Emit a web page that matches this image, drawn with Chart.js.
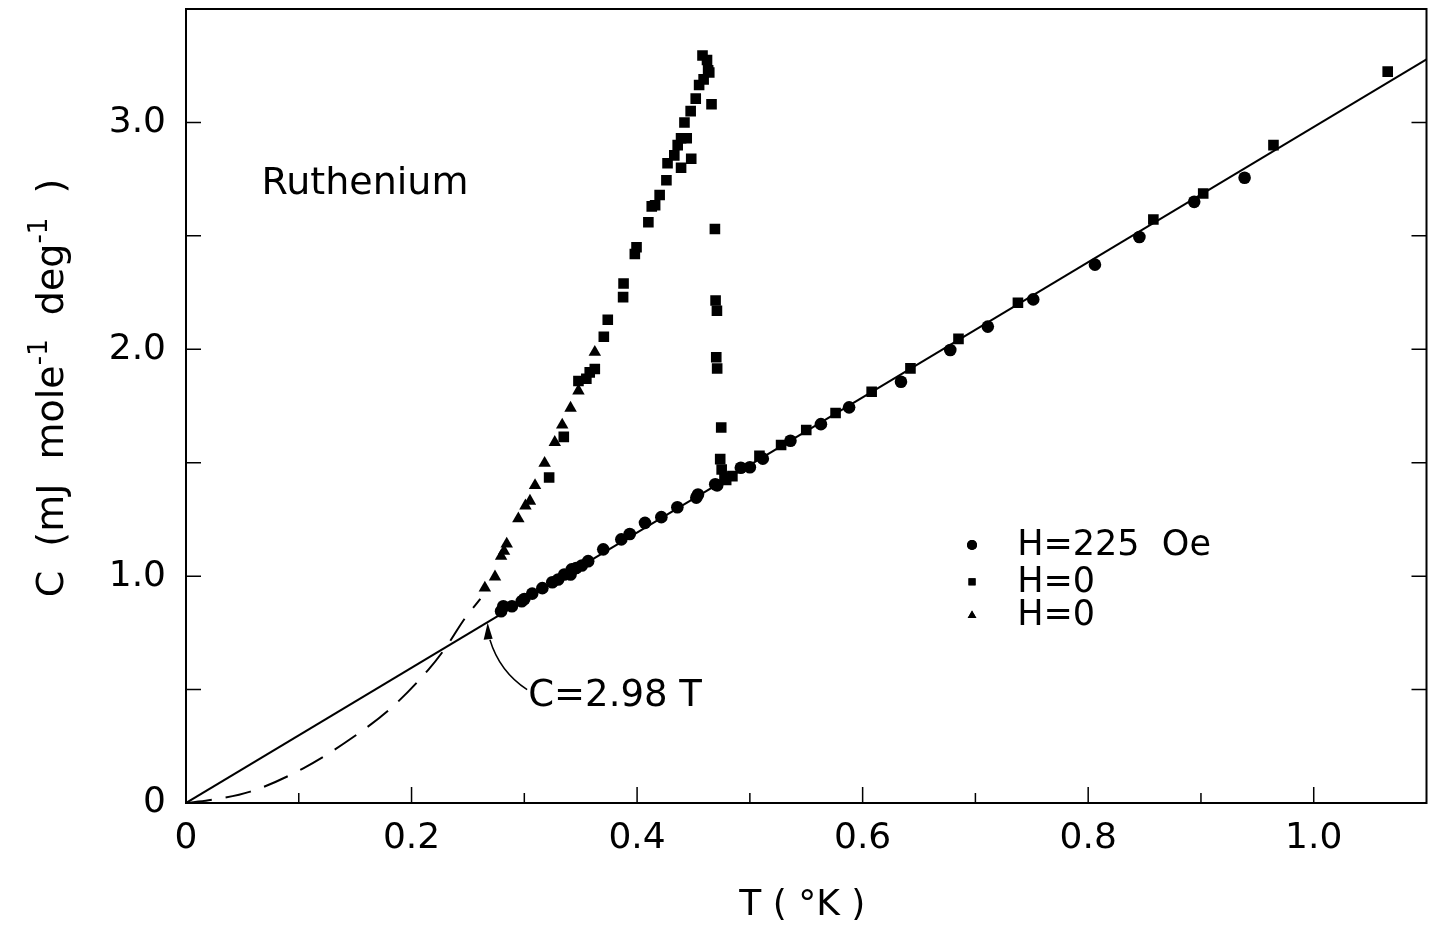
<!DOCTYPE html>
<html>
<head>
<meta charset="utf-8">
<script src="https://cdn.jsdelivr.net/npm/chart.js@4.4.0/dist/chart.umd.min.js"></script>
<style>
  html, body { margin: 0; padding: 0; background: #fff; }
</style>
</head>
<body>
<canvas id="chart" width="1434" height="931"></canvas>
<script>
// H = 225 Oe (circles)
const circT = [0.2794, 0.2814, 0.289, 0.2977, 0.300, 0.307, 0.316, 0.3248, 0.330, 0.3354, 0.341, 0.342,
  0.346, 0.351, 0.3566, 0.370, 0.386, 0.3935, 0.407, 0.4215, 0.4357, 0.4525, 0.454, 0.4693, 0.471,
  0.492, 0.500, 0.5115, 0.536, 0.563, 0.588, 0.634, 0.6777, 0.711, 0.7513, 0.806, 0.8454, 0.894, 0.9387];
const circC = [0.845, 0.867, 0.867, 0.889, 0.899, 0.923, 0.947, 0.973, 0.985, 1.007, 1.007, 1.030,
  1.036, 1.047, 1.066, 1.118, 1.162, 1.186, 1.235, 1.260, 1.304, 1.346, 1.360, 1.405, 1.400,
  1.478, 1.480, 1.518, 1.597, 1.670, 1.744, 1.857, 1.997, 2.100, 2.220, 2.373, 2.495, 2.650, 2.756];

// H = 0 (squares)
const sqT = [0.322, 0.335, 0.348, 0.355, 0.358, 0.3625, 0.3705, 0.374, 0.3876, 0.388, 0.398, 0.3995,
  0.410, 0.413, 0.416, 0.420, 0.426, 0.427, 0.433, 0.436, 0.439, 0.439, 0.444, 0.448, 0.4475, 0.442,
  0.452, 0.455, 0.459, 0.458, 0.462, 0.463, 0.464, 0.466, 0.469, 0.4696, 0.4708, 0.4702, 0.471,
  0.4746, 0.4737, 0.475, 0.4775, 0.479, 0.4845, 0.5085, 0.5277, 0.550, 0.576, 0.608, 0.6424, 0.685,
  0.7377, 0.8578, 0.902, 0.9643, 1.0656];
const sqC = [1.435, 1.614, 1.860, 1.870, 1.898, 1.913, 2.055, 2.130, 2.230, 2.290, 2.420, 2.450,
  2.560, 2.630, 2.635, 2.680, 2.745, 2.820, 2.855, 2.900, 2.930, 2.800, 2.930, 2.840, 3.050, 3.000,
  3.105, 3.165, 3.190, 3.295, 3.275, 3.230, 3.220, 3.080, 2.530, 2.215, 2.170, 1.965, 1.915,
  1.655, 1.516, 1.470, 1.435, 1.424, 1.441, 1.530, 1.578, 1.644, 1.719, 1.813, 1.916, 2.046,
  2.205, 2.572, 2.687, 2.900, 3.224];

// H = 0 (triangles)
const triT = [0.265, 0.274, 0.2794, 0.282, 0.2844, 0.2947, 0.301, 0.305, 0.3095, 0.318, 0.327, 0.3336, 0.341, 0.348, 0.3625];
const triC = [0.948, 0.997, 1.088, 1.110, 1.142, 1.253, 1.310, 1.331, 1.400, 1.498, 1.590, 1.667, 1.741, 1.817, 1.987];

// fitted line C = 2.98 T (end points)
const fitT = [0, 1.1];
const fitC = [0, 3.278];

// dashed curve
const dashT = [0, 0.02, 0.057, 0.104, 0.149, 0.1835, 0.215, 0.231, 0.2466, 0.261];
const dashC = [0, 0.012, 0.05, 0.153, 0.293, 0.426, 0.588, 0.69, 0.809, 0.90];

// axes
const xTickVals = [0, 0.2, 0.4, 0.6, 0.8, 1.0];
const xTickLabels = ['0', '0.2', '0.4', '0.6', '0.8', '1.0'];
const xMinorVals = [0.1, 0.3, 0.5, 0.7, 0.9];
const yTickVals = [0, 1, 2, 3];
const yTickLabels = ['0', '1.0', '2.0', '3.0'];
const yMinorVals = [0.5, 1.5, 2.5];

const legendLabels = ['H=225  Oe', 'H=0', 'H=0'];
const legendStyles = ['circle', 'rect', 'triangle'];

const pts = (xs, ys) => xs.map((x, i) => ({ x, y: ys[i] }));
const FONT = "'DejaVu Sans', sans-serif";

const decor = {
  id: 'decor',
  afterDraw(chart) {
    const { ctx, chartArea: a, scales: { x, y } } = chart;
    ctx.save();
    ctx.strokeStyle = '#000';
    ctx.fillStyle = '#000';
    ctx.lineWidth = 2;
    ctx.strokeRect(a.left, a.top, a.right - a.left, a.bottom - a.top);

    // inward ticks
    ctx.lineWidth = 1.5;
    ctx.beginPath();
    xTickVals.forEach(v => {
      const px = x.getPixelForValue(v);
      ctx.moveTo(px, a.bottom); ctx.lineTo(px, a.bottom - 16);
    });
    xMinorVals.forEach(v => {
      const px = x.getPixelForValue(v);
      ctx.moveTo(px, a.bottom); ctx.lineTo(px, a.bottom - 10);
    });
    yTickVals.concat(yMinorVals).forEach(v => {
      const py = y.getPixelForValue(v);
      ctx.moveTo(a.left, py); ctx.lineTo(a.left + 15, py);
      ctx.moveTo(a.right, py); ctx.lineTo(a.right - 15, py);
    });
    ctx.stroke();

    // x title
    ctx.font = '36px ' + FONT;
    ctx.textAlign = 'center';
    ctx.textBaseline = 'middle';
    ctx.fillText('T ( °K )', (a.left + a.right) / 2 - 4, 906);

    // y title with superscripts
    const parts = [['C  (mJ  mole', 38, 0], ['-1', 26, 16], ['  deg', 38, 0], ['-1', 26, 16], ['  )', 38, 0]];
    let total = 0;
    parts.forEach(p => { ctx.font = p[1] + 'px ' + FONT; p.push(ctx.measureText(p[0]).width); total += p[3]; });
    ctx.translate(50, 388);
    ctx.rotate(-Math.PI / 2);
    ctx.textAlign = 'left';
    ctx.textBaseline = 'alphabetic';
    let cx = -total / 2;
    parts.forEach(p => {
      ctx.font = p[1] + 'px ' + FONT;
      ctx.fillText(p[0], cx, 13 - p[2]);
      cx += p[3];
    });
    ctx.setTransform(1, 0, 0, 1, 0, 0);

    // Ruthenium label
    ctx.font = '38px ' + FONT;
    ctx.textAlign = 'left';
    ctx.textBaseline = 'middle';
    ctx.fillText('Ruthenium', x.getPixelForValue(0.067), y.getPixelForValue(2.73));

    // legend
    const rowsC = [1.137, 0.975, 0.827];
    ctx.font = '35px ' + FONT;
    rowsC.forEach((c, i) => {
      const sx = x.getPixelForValue(0.697), ty = y.getPixelForValue(c);
      Chart.helpers.drawPoint(ctx, { pointStyle: legendStyles[i], radius: 5, borderWidth: 0 }, sx, ty);
      ctx.fill();
      ctx.fillText(legendLabels[i], x.getPixelForValue(0.737), ty + 1);
    });

    // annotation C = 2.98 T with curved arrow
    ctx.font = '37px ' + FONT;
    ctx.fillText('C=2.98 T', x.getPixelForValue(0.3035), y.getPixelForValue(0.47));
    const sx = x.getPixelForValue(0.3025), sy = y.getPixelForValue(0.50);
    const qx = x.getPixelForValue(0.278), qy = y.getPixelForValue(0.58);
    const ex = x.getPixelForValue(0.2695), ey = y.getPixelForValue(0.72);
    ctx.lineWidth = 1.5;
    ctx.beginPath();
    ctx.moveTo(sx, sy);
    ctx.quadraticCurveTo(qx, qy, ex, ey);
    ctx.stroke();
    const tx = x.getPixelForValue(0.2675), tyy = y.getPixelForValue(0.795);
    ctx.beginPath();
    ctx.moveTo(tx, tyy);
    ctx.lineTo(tx - 4, tyy + 17);
    ctx.lineTo(tx + 5, tyy + 16);
    ctx.closePath();
    ctx.fill();
    ctx.restore();
  }
};

const noPad = s => { s.paddingTop = 0; s.paddingBottom = 0; s.paddingLeft = 0; s.paddingRight = 0; };

new Chart(document.getElementById('chart'), {
  type: 'scatter',
  data: {
    datasets: [
      {
        label: 'C = 2.98 T',
        data: pts(fitT, fitC),
        showLine: true,
        borderColor: '#000',
        borderWidth: 2,
        pointRadius: 0
      },
      {
        label: 'dashed',
        data: pts(dashT, dashC),
        showLine: true,
        borderColor: '#000',
        borderWidth: 2,
        borderDash: [26, 14],
        cubicInterpolationMode: 'monotone',
        pointRadius: 0
      },
      {
        label: 'H=225 Oe',
        data: pts(circT, circC),
        pointStyle: 'circle',
        pointRadius: 6.3,
        backgroundColor: '#000',
        borderWidth: 0
      },
      {
        label: 'H=0',
        data: pts(sqT, sqC),
        pointStyle: 'rect',
        pointRadius: 7.5,
        backgroundColor: '#000',
        borderWidth: 0
      },
      {
        label: 'H=0 ',
        data: pts(triT, triC),
        pointStyle: 'triangle',
        pointRadius: 7.2,
        backgroundColor: '#000',
        borderWidth: 0
      }
    ]
  },
  options: {
    responsive: false,
    animation: false,
    devicePixelRatio: 1,
    layout: { padding: { top: 9, right: 0, left: 0, bottom: 0 } },
    plugins: { legend: { display: false }, tooltip: { enabled: false } },
    scales: {
      x: {
        type: 'linear',
        min: 0,
        max: 1.1,
        grid: { display: false, drawTicks: false },
        border: { display: false },
        afterBuildTicks: s => { s.ticks = xTickVals.map(v => ({ value: v })); },
        afterFit: s => { s.height = 128; noPad(s); },
        ticks: {
          color: '#000',
          padding: 14,
          maxRotation: 0,
          autoSkip: false,
          font: { family: 'DejaVu Sans', size: 36 },
          callback: (v, i) => xTickLabels[i]
        }
      },
      y: {
        type: 'linear',
        min: 0,
        max: 3.5,
        grid: { display: false, drawTicks: false },
        border: { display: false },
        afterBuildTicks: s => { s.ticks = yTickVals.map(v => ({ value: v })); },
        afterFit: s => { s.width = 186; noPad(s); },
        ticks: {
          color: '#000',
          padding: 20,
          autoSkip: false,
          font: { family: 'DejaVu Sans', size: 36 },
          callback: (v, i) => yTickLabels[i]
        }
      }
    }
  },
  plugins: [decor]
});
</script>
</body>
</html>
